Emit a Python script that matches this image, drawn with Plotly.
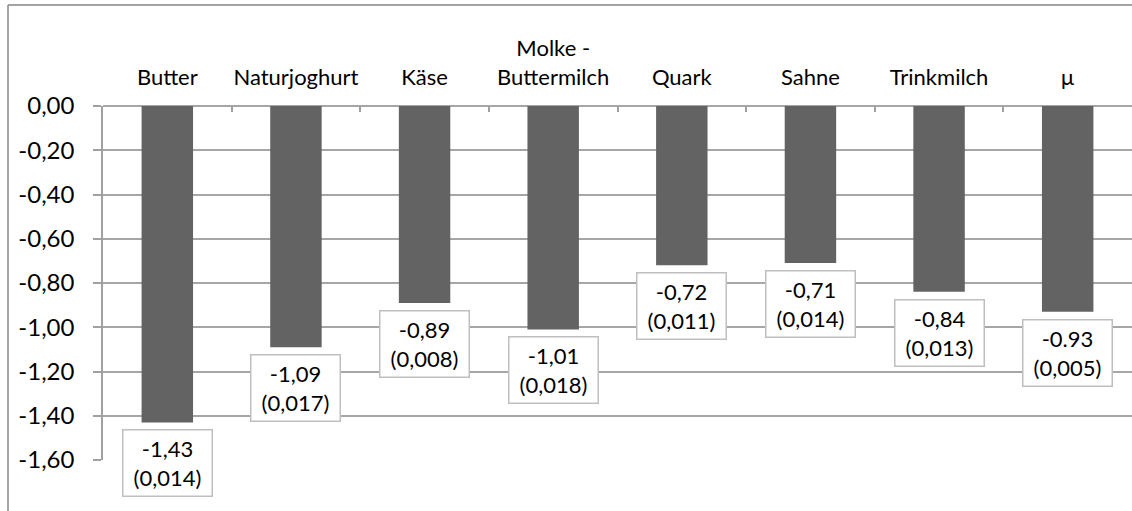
import plotly.graph_objects as go

categories = ["Butter", "Naturjoghurt", "Käse", "Molke -<br>Buttermilch", "Quark", "Sahne", "Trinkmilch", "µ"]
values = [-1.43, -1.09, -0.89, -1.01, -0.72, -0.71, -0.84, -0.93]
value_labels = ["-1,43", "-1,09", "-0,89", "-1,01", "-0,72", "-0,71", "-0,84", "-0.93"]
se_labels = ["(0,014)", "(0,017)", "(0,008)", "(0,018)", "(0,011)", "(0,014)", "(0,013)", "(0,005)"]
y_ticks = [0.0, -0.2, -0.4, -0.6, -0.8, -1.0, -1.2, -1.4, -1.6]
y_ticktext = ["0,00", "-0,20", "-0,40", "-0,60", "-0,80", "-1,00", "-1,20", "-1,40", "-1,60"]

FONT = "Lato, Carlito, Calibri, sans-serif"
W, H = 1132, 511
ML, MT, MB, MR = 103, 106, 51, 0

fig = go.Figure()
fig.add_trace(go.Bar(x=categories, y=values, width=0.4,
                     marker=dict(color="#636363", line=dict(width=0)),
                     hoverinfo="skip"))

for c, v, a, b in zip(categories, values, value_labels, se_labels):
    fig.add_annotation(x=c, y=v, text=f"{a}<br>{b}", showarrow=False,
                       yanchor="top", yshift=-7, xanchor="center",
                       font=dict(family=FONT, size=22, color="#000000"),
                       bgcolor="#ffffff", bordercolor="#bfbfbf", borderwidth=1.5,
                       borderpad=3, width=82, height=59)

pw = W - ML - MR
ph = H - MT - MB
x_left = (8 - ML) / pw
y_top = 1 + (MT - 5) / ph
fig.add_shape(type="line", xref="paper", yref="paper", x0=x_left, x1=x_left,
              y0=y_top, y1=-0.5, line=dict(color="#868686", width=1.5), layer="above")
fig.add_shape(type="line", xref="paper", yref="paper", x0=x_left, x1=1.2,
              y0=y_top, y1=y_top, line=dict(color="#868686", width=1.5), layer="above")

fig.update_layout(
    width=W, height=H,
    margin=dict(l=ML, r=MR, t=MT, b=MB, pad=0, autoexpand=False),
    paper_bgcolor="#ffffff", plot_bgcolor="#ffffff",
    showlegend=False,
    font=dict(family=FONT, size=22, color="#000000"),
    xaxis=dict(side="top", type="category", tickson="boundaries", ticks="inside",
               ticklen=6, tickcolor="#a0a0a0", tickwidth=1.5, tickangle=0,
               automargin=False,
               showline=False, showgrid=False, zeroline=False,
               tickfont=dict(family=FONT, size=22, color="#000000"),
               ticklabelstandoff=16),
    yaxis=dict(range=[-1.6, 0], tickvals=y_ticks, ticktext=y_ticktext,
               automargin=False,
               showgrid=True, gridcolor="#a6a6a6", gridwidth=1.5,
               zeroline=True, zerolinecolor="#a6a6a6", zerolinewidth=1.5,
               showline=True, linecolor="#a0a0a0", linewidth=1.5,
               ticks="outside", ticklen=8, tickcolor="#a0a0a0", tickwidth=1.5,
               tickfont=dict(family=FONT, size=24, color="#000000"),
               ticklabelstandoff=14),
)

fig.write_html("out.html", config={"displayModeBar": False},
               post_script="document.body.style.margin='0';document.body.style.overflow='hidden';")
